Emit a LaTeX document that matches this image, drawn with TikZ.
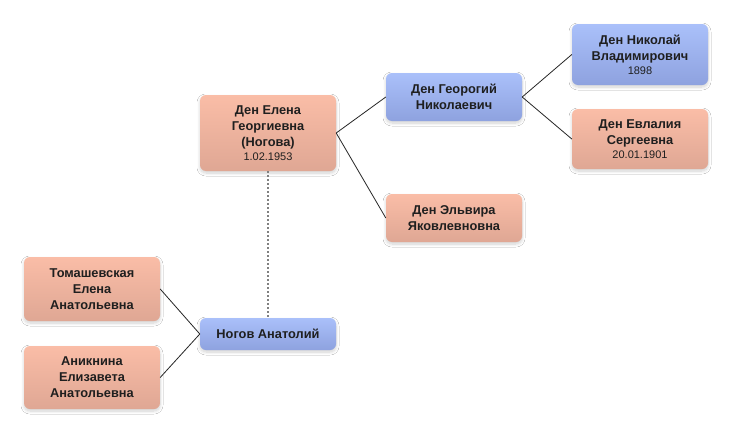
\documentclass[tikz,border=0pt]{standalone}
\usepackage{fontspec}
\setmainfont{Liberation Sans}
\usetikzlibrary{shadows.blur}
\definecolor{salmonTop}{HTML}{FABDA7}
\definecolor{salmonBot}{HTML}{DFA794}
\definecolor{blueTop}{HTML}{AAC0FA}
\definecolor{blueBot}{HTML}{8EA2DF}
\tikzset{
	person/.style={rounded corners=6pt, minimum width=136pt, align=center, inner sep=2pt,
		font=\bfseries\fontsize{12.8}{16}\selectfont, text=black!88,
		blur shadow={shadow blur steps=8, shadow blur radius=3pt, shadow xshift=0pt, shadow yshift=-2pt, shadow opacity=18}},
	female/.style={person, top color=salmonTop, bottom color=salmonBot},
	male/.style={person, top color=blueTop, bottom color=blueBot},
	link/.style={black!85, line width=0.8pt},
	marriage/.style={black!50, line width=1.8pt, dash pattern=on 2pt off 2pt}
}
\newcommand{\born}[1]{\\[-2pt]{\fontsize{11}{12}\selectfont\mdseries #1}}

\begin{document}
\begin{tikzpicture}[x=1pt, y=-1pt]
		%%%%% START %%%%%
		
		\fill[white] (0, 0) rectangle (732, 434);
		\useasboundingbox (0, 0) rectangle (732, 434);
		
		\node[female, minimum height=76pt] (elena) at (268, 133) {Ден Елена\\Георгиевна\\(Ногова)\born{1.02.1953}};
		\node[male, minimum height=48pt] (georgiy) at (454, 97) {Ден Георогий\\Николаевич};
		\node[female, minimum height=48pt] (elvira) at (454, 218) {Ден Эльвира\\Яковлевновна};
		
		\node[male, minimum height=61pt] (nikolay) at (640, 54.5) {Ден Николай\\Владимирович\born{1898}};
		\node[female, minimum height=60pt] (evlaliya) at (640, 139) {Ден Евлалия\\Сергеевна\born{20.01.1901}};
		
		\node[male, minimum height=32pt] (nogov) at (268, 334) {Ногов Анатолий};
		\node[female, minimum height=64pt] (tomash) at (92, 289) {Томашевская\\Елена\\Анатольевна};
		\node[female, minimum height=63pt] (aniknina) at (92, 377.5) {Аникнина\\Елизавета\\Анатольевна};
		
		\draw[link] (elena.east) -- (georgiy.west);
		\draw[link] (elena.east) -- (elvira.west);
		\draw[link] (georgiy.east) -- (nikolay.west);
		\draw[link] (georgiy.east) -- (evlaliya.west);
		\draw[link] (nogov.west) -- (tomash.east);
		\draw[link] (nogov.west) -- (aniknina.east);
		
		\draw[marriage] (elena.south) -- (nogov.north);
		
		%%%%% END %%%%%
\end{tikzpicture}
\end{document}
